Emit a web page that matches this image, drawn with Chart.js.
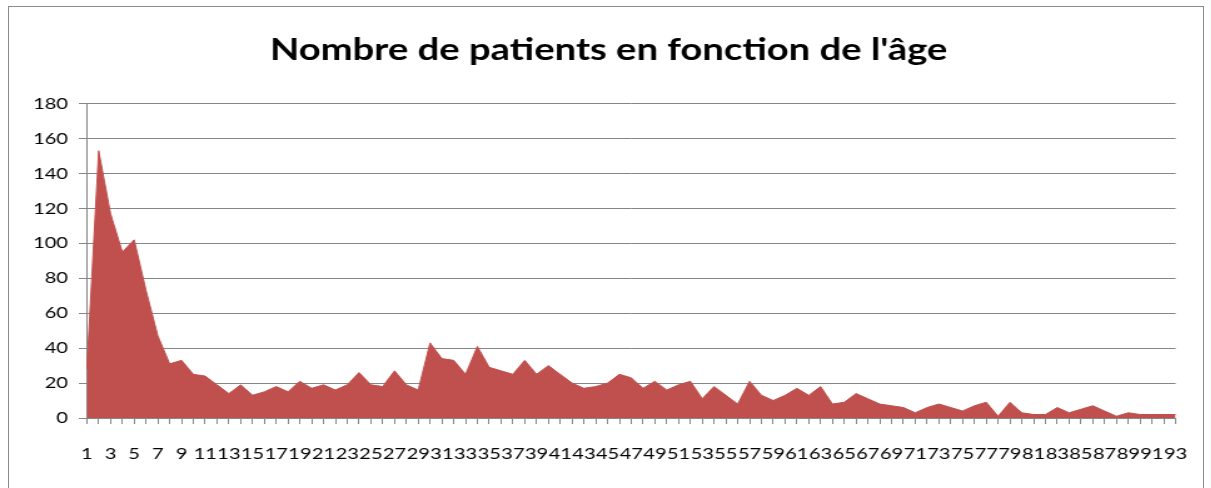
<!DOCTYPE html>
<html lang="fr">
<head>
<meta charset="UTF-8">
<title>Nombre de patients en fonction de l'âge</title>
<script src="https://cdn.jsdelivr.net/npm/chart.js"></script>
<style>
  * { margin: 0; padding: 0; box-sizing: border-box; }
  body { width: 1211px; height: 488px; background: #fff; overflow: hidden; position: relative; }
  /* the reference image is stretched horizontally, so the chart is drawn narrower and scaled */
  #wrap { position: absolute; left: 0; top: 0; width: 968.8px; height: 488px; transform: scaleX(1.25); transform-origin: 0 0; }
  #frame { position: absolute; left: 8px; top: 6px; width: 1196px; height: 520px; border: 1px solid #8c8c8c; }
</style>
</head>
<body>
<div id="frame"></div>
<div id="wrap"><canvas id="chart"></canvas></div>
<script>
// Ages (categories)
const ages = [
  '1','2','3','4','5','6','7','8','9','10','11','12','13','14','15','16','17','18','19','20',
  '21','22','23','24','25','26','27','28','29','30','31','32','33','34','35','36','37','38','39','40',
  '41','42','43','44','45','46','47','48','49','50','51','52','53','54','55','56','57','58','59','60',
  '61','62','63','64','65','66','67','68','69','70','71','72','73','74','75','76','77','78','79','80',
  '81','82','83','84','85','86','87','88','89','90','91','92','93'
];

// Number of patients per age
const patients = [
  28, 153, 117, 95, 102, 73, 47, 31, 33, 25,
  24, 19, 14, 19, 13, 15, 18, 15, 21, 17,
  19, 16, 19, 26, 19, 18, 27, 19, 16, 43,
  34, 33, 25, 41, 29, 27, 25, 33, 25, 30,
  25, 20, 17, 18, 20, 25, 23, 17, 21, 16,
  19, 21, 11, 18, 13, 8, 21, 13, 10, 13,
  17, 13, 18, 8, 9, 14, 11, 8, 7, 6,
  3, 6, 8, 6, 4, 7, 9, 1, 9, 3,
  2, 2, 6, 3, 5, 7, 4, 1, 3, 2,
  2, 2, 2
];

const yTicks = [0, 20, 40, 60, 80, 100, 120, 140, 160, 180];

const gridColor = '#868686';
const fillColor = '#c0504d';

new Chart(document.getElementById('chart'), {
  type: 'line',
  data: {
    labels: ages,
    datasets: [{
      data: patients,
      fill: 'origin',
      backgroundColor: fillColor,
      borderColor: fillColor,
      borderWidth: 1,
      pointRadius: 0,
      tension: 0
    }]
  },
  options: {
    responsive: true,
    maintainAspectRatio: false,
    animation: false,
    layout: { padding: { left: 4, right: 0, top: 0, bottom: 0 } },
    plugins: {
      legend: { display: false },
      tooltip: { enabled: false },
      title: {
        display: true,
        text: "Nombre de patients en fonction de l'âge",
        color: '#000',
        font: { family: 'Lato', size: 30.5, weight: 'bold' },
        padding: { top: 32, bottom: 35 }
      }
    },
    scales: {
      x: {
        offset: false,
        grid: { display: true, drawOnChartArea: false, drawTicks: true, tickLength: 6, color: gridColor },
        border: { display: true, color: gridColor, width: 1 },
        ticks: {
          autoSkip: false,
          maxRotation: 0,
          minRotation: 0,
          padding: 20,
          color: '#000',
          font: { family: 'Lato', size: 16 },
          callback: function (value, index) {
            return index % 2 === 0 ? ages[index] : '';
          }
        },
        afterFit: function (scale) { scale.height = 70; }
      },
      y: {
        min: yTicks[0],
        max: yTicks[yTicks.length - 1],
        grid: { color: gridColor, tickLength: 6.4, lineWidth: 1 },
        border: { display: true, color: gridColor, width: 1 },
        ticks: {
          stepSize: 20,
          padding: 8.6,
          color: '#000',
          font: { family: 'Lato', size: 16 }
        },
        afterBuildTicks: function (scale) {
          scale.ticks = yTicks.map(v => ({ value: v }));
        },
        afterFit: function (scale) { scale.width = 65.4; }
      },
      // empty axis on the right, only reserves the gap after the plot
      spacer: {
        type: 'linear',
        position: 'right',
        display: true,
        grid: { display: false, drawTicks: false },
        border: { display: false },
        ticks: { display: false },
        afterFit: function (scale) { scale.width = 28.6; }
      }
    }
  }
});
</script>
</body>
</html>
